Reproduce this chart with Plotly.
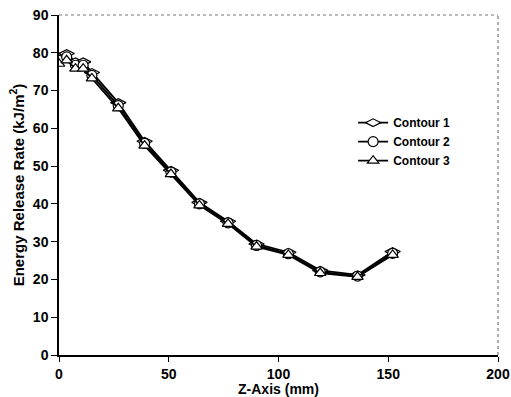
import plotly.graph_objects as go

z = [0, 3.5, 7.5, 11, 15, 27, 39, 51, 64, 77, 90, 104.5, 119, 136, 152]
contour1 = [78.9, 79.8, 77.6, 77.6, 74.8, 66.8, 56.6, 48.9, 40.4, 35.4, 29.4, 27.2, 22.4, 21.2, 27.4]
contour2 = [78.0, 78.9, 76.7, 76.7, 74.0, 66.0, 56.0, 48.4, 40.0, 35.0, 29.0, 26.8, 22.0, 20.9, 26.9]
contour3 = [77.1, 78.0, 75.8, 75.8, 73.2, 65.3, 55.4, 47.9, 39.6, 34.7, 28.7, 26.5, 21.7, 20.7, 26.5]
names = ["Contour 1", "Contour 2", "Contour 3"]
symbols = ["diamond-wide", "circle", "triangle-up"]
x_ticks = [0, 50, 100, 150, 200]
y_ticks = [0, 10, 20, 30, 40, 50, 60, 70, 80, 90]

fig = go.Figure()
for name, ys, sym in zip(names, [contour1, contour2, contour3], symbols):
    fig.add_trace(go.Scatter(
        x=z, y=ys, name=name, mode="lines+markers",
        line=dict(color="black", width=1.8),
        marker=dict(symbol=sym, size=10 if sym != "diamond-wide" else 11,
                    color="white", line=dict(color="black", width=1.2)),
    ))

fam = "Liberation Sans, Arial, sans-serif"
tickfont = dict(size=14, family=fam, color="black", weight="bold")
fig.update_layout(
    width=511, height=397,
    margin=dict(l=59, r=13, t=15, b=42),
    paper_bgcolor="white", plot_bgcolor="white",
    font=dict(family=fam, size=13, color="black"),
    showlegend=True,
    legend=dict(x=0.67, y=0.726, xanchor="left", yanchor="top",
                bgcolor="rgba(0,0,0,0)",
                font=dict(size=12, family=fam, color="black", weight="bold"),
                tracegroupgap=0, itemwidth=30),
    xaxis=dict(range=[0, 200], tickvals=x_ticks, showgrid=False, zeroline=False, automargin=False,
               showline=True, linecolor="black", linewidth=1.5, ticks="outside", ticklen=5,
               tickcolor="black", tickfont=tickfont,
               title=dict(text="Z-Axis (mm)", standoff=0,
                          font=dict(size=14, family=fam, color="black", weight="bold"))),
    yaxis=dict(range=[0, 90], tickvals=y_ticks, showgrid=False, zeroline=False, automargin=False,
               showline=True, linecolor="black", linewidth=1.5, ticks="outside", ticklen=6,
               tickcolor="black", tickfont=tickfont,
               title=dict(text="Energy Release Rate (kJ/m<sup>2</sup>)", standoff=5,
                          font=dict(size=15, family=fam, color="black", weight="bold"))),
)
fig.add_shape(type="line", xref="paper", yref="paper", x0=0, x1=1, y0=1, y1=1,
              line=dict(color="#777777", width=1.2, dash="dot"))
fig.add_shape(type="line", xref="paper", yref="paper", x0=1, x1=1, y0=0, y1=1,
              line=dict(color="#777777", width=1.2, dash="dot"))
fig.write_html("out.html")
